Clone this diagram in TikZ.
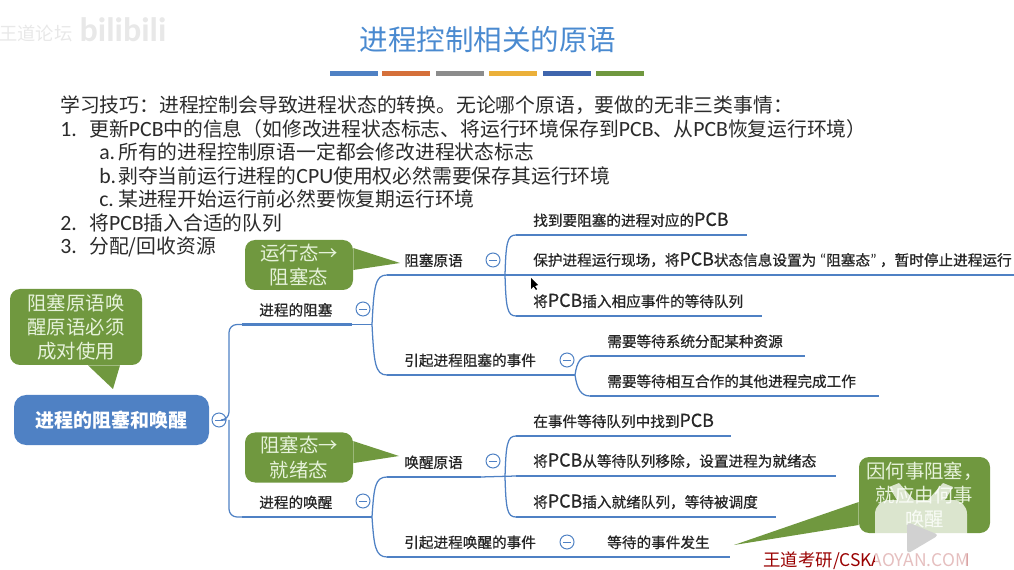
\documentclass[tikz,border=0pt]{standalone}
\usepackage{fontspec}
\setmainfont{Noto Sans CJK SC}
\newfontfamily\latinfont[Scale=1.1]{Carlito}
\newfontfamily\mapfont[FakeBold=0.8]{Noto Sans CJK SC}
\newfontfamily\maplatin[FakeBold=0.8,Scale=1.22]{Noto Sans CJK SC}
\usetikzlibrary{positioning}

\definecolor{titleblue}{HTML}{4A8AD0}
\definecolor{mapblue}{HTML}{4F81C4}
\definecolor{bubblegreen}{HTML}{70983F}
\definecolor{bubbletext}{HTML}{E6F2DA}
\definecolor{bodytext}{HTML}{2B2B2B}
\definecolor{barorange}{HTML}{D5703A}
\definecolor{bargrey}{HTML}{8C8C8C}
\definecolor{baryellow}{HTML}{EBB03A}
\definecolor{bardark}{HTML}{3F65AD}
\def\px{0.025cm}
\newcommand{\la}[1]{{\latinfont #1}}
\newcommand{\pcb}{{\maplatin PCB}}
\newcommand{\numb}[1]{\makebox[.725cm][l]{\latinfont #1}}
\newcommand{\subnumb}[1]{\makebox[.475cm][l]{\latinfont #1}}

\tikzset{
    body/.style={anchor=west, inner sep=0pt, text=bodytext, font=\fontsize{14.08}{16}\selectfont},
    titlebar/.style={minimum width=48*\px, minimum height=5*\px, inner sep=0pt, anchor=west},
    conn/.style={draw=mapblue, line width=0.9pt},
    underline/.style={draw=mapblue, line width=2.1pt},
    branch/.style={anchor=south west, inner xsep=0pt, inner ysep=.19cm, text width=#1*\px, align=left,
        font=\mapfont\fontsize{10.4}{12}\selectfont, text=black!85,
        execute at begin node={\hspace*{.425cm}}},
    toggle/.style={circle, draw=mapblue, fill=white, line width=0.7pt, minimum size=14*\px, inner sep=0pt,
        path picture={\draw[mapblue, line width=0.7pt] (-4,0) -- (4,0);}},
    bubble/.style={fill=bubblegreen, rounded corners=.25cm, text=bubbletext, align=center, inner sep=0pt,
        minimum width=108*\px, minimum height=50*\px, font=\fontsize{13.8}{17.2}\selectfont},
    wedge/.style={fill=bubblegreen},
}

\begin{document}
\begin{tikzpicture}[x=0.025cm, y=-0.025cm]
    \useasboundingbox (0,0) rectangle (1014,570);

    % Watermarks
    \node[text=black!9, font=\fontsize{13}{15}\selectfont, inner sep=0pt] (forum) at (36,33) {王道论坛};
    \node[text=black!9, font=\bfseries\fontsize{22}{24}\selectfont, inner sep=0pt] (bili) at (123,30) {\la{bilibili}};

    % Title
    \node[text=titleblue, font=\fontsize{20.3}{24}\selectfont, inner sep=0pt] (title) at (488,40) {进程控制相关的原语};
    \node[titlebar, fill=mapblue] (bar1) at (330,74) {};
    \node[titlebar, fill=barorange] (bar2) at (382,74) {};
    \node[titlebar, fill=bargrey] (bar3) at (436,74) {};
    \node[titlebar, fill=baryellow] (bar4) at (489,74) {};
    \node[titlebar, fill=bardark] (bar5) at (543,74) {};
    \node[titlebar, fill=bubblegreen] (bar6) at (596,74) {};

    % Text block
    \node[body] (tip) at (60,105) {学习技巧：进程控制会导致进程状态的转换。无论哪个原语，要做的无非三类事情：};
    \node[body] (tip1) at (60,129) {\numb{1.}更新\la{PCB}中的信息（如修改进程状态标志、将运行环境保存到\la{PCB}、从\la{PCB}恢复运行环境）};
    \node[body] (tipa) at (99,152) {\subnumb{a.}所有的进程控制原语一定都会修改进程状态标志};
    \node[body] (tipb) at (99,176) {\subnumb{b.}剥夺当前运行进程的\la{CPU}使用权必然需要保存其运行环境};
    \node[body] (tipc) at (99,199) {\subnumb{c.}某进程开始运行前必然要恢复期运行环境};
    \node[body] (tip2) at (60,223) {\numb{2.}将\la{PCB}插入合适的队列};
    \node[body] (tip3) at (60,247) {\numb{3.}分配/回收资源};

    % Root
    \node[fill=mapblue, rounded corners=.3cm, minimum width=195*\px, minimum height=50*\px, inner sep=0pt,
        text=white, font=\bfseries\fontsize{13.5}{16}\selectfont] (root) at (111.5,420) {进程的阻塞和唤醒};
    \node[toggle] (rootbtn) at (219,420) {};

    % First level
    \node[branch=109] (blockit) at (242,324.5) {进程的阻塞};
    \node[branch=109] (wakeit) at (242,517) {进程的唤醒};
    \node[toggle] (blockbtn) at (363,309) {};
    \node[toggle] (wakebtn) at (363,501) {};

    % Second level
    \node[branch=93] (blockprim) at (387,275) {阻塞原语};
    \node[branch=168] (blockcause) at (387,375) {引起进程阻塞的事件};
    \node[branch=93] (wakeprim) at (387,477) {唤醒原语};
    \node[branch=168] (wakecause) at (387,557) {引起进程唤醒的事件};
    \node[toggle] (blockprimbtn) at (493,260) {};
    \node[toggle] (blockcausebtn) at (567,360) {};
    \node[toggle] (wakeprimbtn) at (493,461) {};
    \node[toggle] (wakecausebtn) at (567,542) {};

    % Third level
    \node[branch=230] (find) at (516,235) {找到要阻塞的进程对应的\pcb};
    \node[branch=498] (protect) at (516,275) {保护进程运行现场，将\pcb 状态信息设置为\hspace{.08cm}\la{“}阻塞态\la{”}\hspace{.08cm}，暂时停止进程运行};
    \node[branch=245] (insert) at (516,316) {将\pcb 插入相应事件的等待队列};
    \node[branch=214] (res) at (590,356) {需要等待系统分配某种资源};
    \node[branch=288] (coop) at (590,396) {需要等待相互合作的其他进程完成工作};
    \node[branch=214] (search) at (516,436) {在事件等待队列中找到\pcb};
    \node[branch=319] (remove) at (516,476) {将\pcb 从等待队列移除，设置进程为就绪态};
    \node[branch=259] (ready) at (516,517) {将\pcb 插入就绪队列，等待被调度};
    \node[branch=139] (event) at (590,557) {等待的事件发生};

    % Underlines
    \foreach \item in {blockit,wakeit,blockprim,blockcause,wakeprim,wakecause,find,protect,insert,res,coop,search,remove,ready,event}
        \draw[underline] (\item.south west) -- (\item.south east);

    % Forks
    \coordinate (rootfork) at (229,420);
    \coordinate (blockfork) at (372,324.5);
    \coordinate (wakefork) at (372,517);
    \coordinate (bpfork) at (505,275);
    \coordinate (bcfork) at (575,375);
    \coordinate (wpfork) at (505,477);

    % Connectors
    \draw[conn, rounded corners=.2cm] (blockit.south west) -| (rootfork) -- (rootbtn.east);
    \draw[conn, rounded corners=.2cm] (wakeit.south west) -| (rootfork);

    \draw[conn] (blockit.south east) -- (blockfork);
    \draw[conn] (blockfork) .. controls +(2,-38) and +(-12,0) .. (blockprim.south west);
    \draw[conn] (blockfork) .. controls +(2,38) and +(-12,0) .. (blockcause.south west);

    \draw[conn] (wakeit.south east) -- (wakefork);
    \draw[conn] (wakefork) .. controls +(2,-30) and +(-12,0) .. (wakeprim.south west);
    \draw[conn] (wakefork) .. controls +(2,28) and +(-12,0) .. (wakecause.south west);

    \draw[conn] (blockprim.south east) -- (protect.south west);
    \draw[conn] (bpfork) .. controls +(1,-32) and +(-9,0) .. (find.south west);
    \draw[conn] (bpfork) .. controls +(1,32) and +(-9,0) .. (insert.south west);

    \draw[conn] (blockcause.south east) -- (bcfork);
    \draw[conn] (bcfork) .. controls +(2,-14) and +(-9,0) .. (res.south west);
    \draw[conn] (bcfork) .. controls +(2,14) and +(-9,0) .. (coop.south west);

    \draw[conn] (wakeprim.south east) -- (remove.south west);
    \draw[conn] (wpfork) .. controls +(1,-32) and +(-9,0) .. (search.south west);
    \draw[conn] (wpfork) .. controls +(1,32) and +(-9,0) .. (ready.south west);

    \draw[conn] (wakecause.south east) -- (event.south west);

    % Callouts
    \coordinate (runtip) at (400,263);
    \coordinate (blocktip) at (399,456);
    \coordinate (pairtip) at (113,389);
    \coordinate (whytip) at (734,545);
    \node[bubble] (runbub) at (299,265) {运行态→\\阻塞态};
    \node[bubble] (blockbub) at (299,457.5) {阻塞态→\\就绪态};
    \node[bubble, minimum width=132*\px, minimum height=76*\px] (pairbub) at (76,327) {阻塞原语唤\\醒原语必须\\成对使用};
    \node[bubble, minimum width=131*\px, minimum height=76*\px] (whybub) at (924.5,495) {因何事阻塞，\\就应由何事\\唤醒};
    \fill[wedge] ([yshift=.425cm]runbub.east) -- (runtip) -- ([yshift=-.125cm]runbub.east) -- cycle;
    \fill[wedge] ([yshift=.41cm]blockbub.east) -- (blocktip) -- ([yshift=-.14cm]blockbub.east) -- cycle;
    \fill[wedge] ([xshift=.3cm]pairbub.south) -- (pairtip) -- ([xshift=1.1cm]pairbub.south) -- cycle;
    \fill[wedge] ([yshift=-.175cm]whybub.west) -- (whytip) -- ([yshift=-.75cm]whybub.west) -- cycle;

    % Footer and play button
    \node[anchor=west, inner sep=0pt, text=red!60!black, font=\fontsize{12.4}{14}\selectfont] (site) at (763,561) {王道考研/CSKAOYAN.COM};
    \fill[white, opacity=.75, rounded corners=.35cm] (875,500) rectangle (967,600);
    \fill[white, opacity=.75] (897,500) -- (889,487) -- (899,483) -- (914,500) -- cycle;
    \fill[white, opacity=.75] (945,500) -- (953,487) -- (943,483) -- (928,500) -- cycle;
    \fill[black!18, rounded corners=.1cm] (907,522) -- (907,554) -- (939,535) -- cycle;

    % Cursor
    \fill[black] (531,278) -- (531,289) -- (533.5,286.5) -- (536,290) -- (537,289) -- (535,286) -- (538,285) -- cycle;
\end{tikzpicture}
\end{document}
